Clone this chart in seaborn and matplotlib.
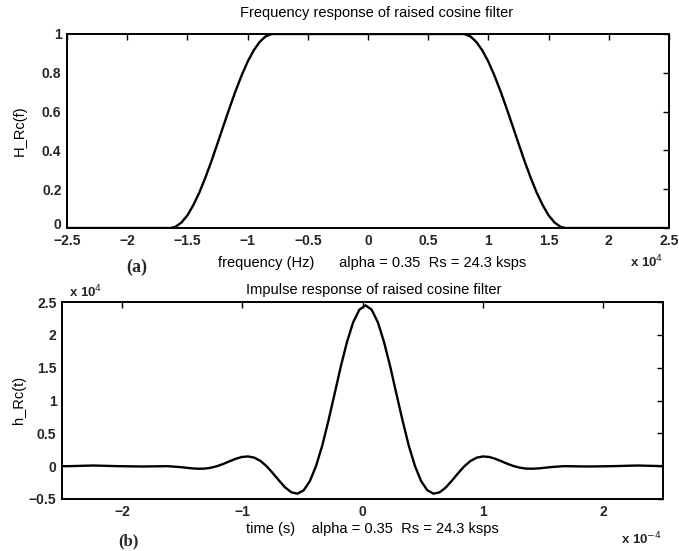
import matplotlib
matplotlib.use("Agg")
import matplotlib.pyplot as plt
import matplotlib.transforms as mtransforms
import seaborn as sns
import pandas as pd

# ---------------- data ----------------
# (a) frequency response, frequency in units of 1e4 Hz
freq_1e4 = [-2.5, -1.64, -1.60, -1.55, -1.50, -1.45, -1.40, -1.35, -1.30, -1.25,
            -1.20, -1.15, -1.10, -1.05, -1.00, -0.95, -0.90, -0.85, -0.80, -0.79,
            0.79, 0.80, 0.85, 0.90, 0.95, 1.00, 1.05, 1.10, 1.15, 1.20,
            1.25, 1.30, 1.35, 1.40, 1.45, 1.50, 1.55, 1.60, 1.64, 2.5]
H_rc = [0.0, 0.0, 0.006, 0.028, 0.065, 0.119, 0.184, 0.261, 0.345, 0.436,
        0.528, 0.619, 0.706, 0.786, 0.857, 0.915, 0.959, 0.988, 1.0, 1.0,
        1.0, 1.0, 0.988, 0.959, 0.915, 0.857, 0.786, 0.706, 0.619, 0.528,
        0.436, 0.345, 0.261, 0.184, 0.119, 0.065, 0.028, 0.006, 0.0, 0.0]

# (b) impulse response, time in units of 1e-4 s, amplitude in units of 1e4
time_1e4 = [-2.5, -2.444, -2.238, -2.033, -1.827, -1.621, -1.518, -1.415, -1.364, -1.312,
            -1.261, -1.210, -1.158, -1.107, -1.055, -1.004, -0.952, -0.901, -0.849, -0.798,
            -0.747, -0.695, -0.644, -0.592, -0.541, -0.489, -0.438, -0.387, -0.335, -0.284,
            -0.232, -0.181, -0.129, -0.078, -0.026, 0.025, 0.076, 0.128, 0.179, 0.231,
            0.282, 0.334, 0.385, 0.437, 0.488, 0.539, 0.591, 0.642, 0.694, 0.745,
            0.797, 0.848, 0.899, 0.951, 1.002, 1.054, 1.105, 1.157, 1.208, 1.260,
            1.311, 1.362, 1.414, 1.465, 1.568, 1.671, 1.877, 2.083, 2.288, 2.5]
h_rc_1e4 = [0.0, 0.0, 0.010, 0.0, -0.005, 0.0, -0.014, -0.034, -0.039, -0.037,
            -0.024, 0.0, 0.034, 0.074, 0.112, 0.140, 0.148, 0.130, 0.080, 0.0,
            -0.104, -0.218, -0.323, -0.398, -0.419, -0.367, -0.228, 0.0, 0.312, 0.689,
            1.102, 1.515, 1.891, 2.190, 2.383, 2.450, 2.383, 2.190, 1.891, 1.515,
            1.102, 0.689, 0.312, 0.0, -0.228, -0.367, -0.419, -0.398, -0.323, -0.218,
            -0.104, 0.0, 0.080, 0.130, 0.148, 0.140, 0.112, 0.074, 0.034, 0.0,
            -0.024, -0.037, -0.039, -0.034, -0.014, 0.0, -0.005, 0.0, 0.010, 0.0]

freq_ticks = [-2.5, -2, -1.5, -1, -0.5, 0, 0.5, 1, 1.5, 2, 2.5]
freq_ticklabels = ["\u22122.5", "\u22122", "\u22121.5", "\u22121", "\u22120.5", "0",
                   "0.5", "1", "1.5", "2", "2.5"]
H_ticks = [0, 0.2, 0.4, 0.6, 0.8, 1]
H_ticklabels = ["0", "0.2", "0.4", "0.6", "0.8", "1"]
time_ticks = [-2, -1, 0, 1, 2]
time_ticklabels = ["\u22122", "\u22121", "0", "1", "2"]
h_ticks = [-0.5, 0, 0.5, 1, 1.5, 2, 2.5]
h_ticklabels = ["\u22120.5", "0", "0.5", "1", "1.5", "2", "2.5"]

title_a = "Frequency response of raised cosine filter"
title_b = "Impulse response of raised cosine filter"
xlabel_a = "frequency (Hz)      alpha = 0.35  Rs = 24.3 ksps"
xlabel_b = "time (s)    alpha = 0.35  Rs = 24.3 ksps"
ylabel_a = "H_Rc(f)"
ylabel_b = "h_Rc(t)"

# ---------------- style ----------------
sns.set_theme(style="white")
plt.rcParams["font.family"] = ["Liberation Sans", "DejaVu Sans"]
plt.rcParams["axes.edgecolor"] = "black"
plt.rcParams["axes.linewidth"] = 1.4

W, H = 679, 551
fig = plt.figure(figsize=(W / 100, H / 100), dpi=100)
fig.patch.set_facecolor("white")


def box(l, t, r, b):
    return [l / W, 1 - b / H, (r - l) / W, (b - t) / H]


ax1 = fig.add_axes(box(67, 34, 669, 228))
ax2 = fig.add_axes(box(62, 302, 663, 499))

df_a = pd.DataFrame({"f": freq_1e4, "H": H_rc})
df_b = pd.DataFrame({"t": time_1e4, "h": h_rc_1e4})

sns.lineplot(data=df_a, x="f", y="H", ax=ax1, color="black", linewidth=1.7,
             estimator=None, sort=False)
sns.lineplot(data=df_b, x="t", y="h", ax=ax2, color="black", linewidth=1.7,
             estimator=None, sort=False)

tick_font = dict(fontsize=10, fontweight="bold")
for ax in (ax1, ax2):
    ax.set_facecolor("white")
    ax.tick_params(direction="in", top=True, right=True, length=4, width=1.0,
                   color="black", pad=4)
    for s in ax.spines.values():
        s.set_visible(True)
        s.set_color("black")
    ax.set_xlabel("")
    ax.set_ylabel("")

ax1.set_xlim(-2.5, 2.5)
ax1.set_ylim(0, 1)
ax1.set_xticks(freq_ticks)
ax1.set_xticklabels(freq_ticklabels, **tick_font)
ax1.set_yticks(H_ticks)
ax1.set_yticklabels(H_ticklabels, **tick_font)

# lift the "0" y tick label a little so it sits just above the "-2.5" label
zero_lbl = ax1.get_yticklabels()[0]
zero_lbl.set_transform(zero_lbl.get_transform() +
                       mtransforms.ScaledTranslation(0, 4 / 100, fig.dpi_scale_trans))

ax2.set_xlim(-2.5, 2.5)
ax2.set_ylim(-0.5, 2.5)
ax2.set_xticks(time_ticks)
ax2.set_xticklabels(time_ticklabels, **tick_font)
ax2.set_yticks(h_ticks)
ax2.set_yticklabels(h_ticklabels, **tick_font)


def ftext(x, y, s, **kw):
    fig.text(x / W, 1 - y / H, s, **kw)


lab = dict(fontsize=10.5, color="black", ha="center", va="center")
ftext(377, 13, title_a, **lab)
ftext(372, 263, xlabel_a, **lab)
ftext(374, 290, title_b, **lab)
ftext(372, 529, xlabel_b, **lab)
ftext(20, 131, ylabel_a, rotation=90, **lab)
ftext(19, 400, ylabel_b, rotation=90, **lab)

ftext(647, 262, "x 10$^{4}$", fontsize=9.5, fontweight="bold", ha="center", va="center")
ftext(86, 292, "x 10$^{4}$", fontsize=9.5, fontweight="bold", ha="center", va="center")
ftext(642, 539, "x 10$^{-4}$", fontsize=9.5, fontweight="bold", ha="center", va="center")

ftext(137, 267, "(a)", fontsize=13, fontweight="bold", family="Liberation Serif",
      ha="center", va="center")
ftext(128, 541, "(b)", fontsize=12, fontweight="bold", family="Liberation Serif",
      ha="center", va="center")

fig.savefig("out.png", dpi=100, facecolor="white")
